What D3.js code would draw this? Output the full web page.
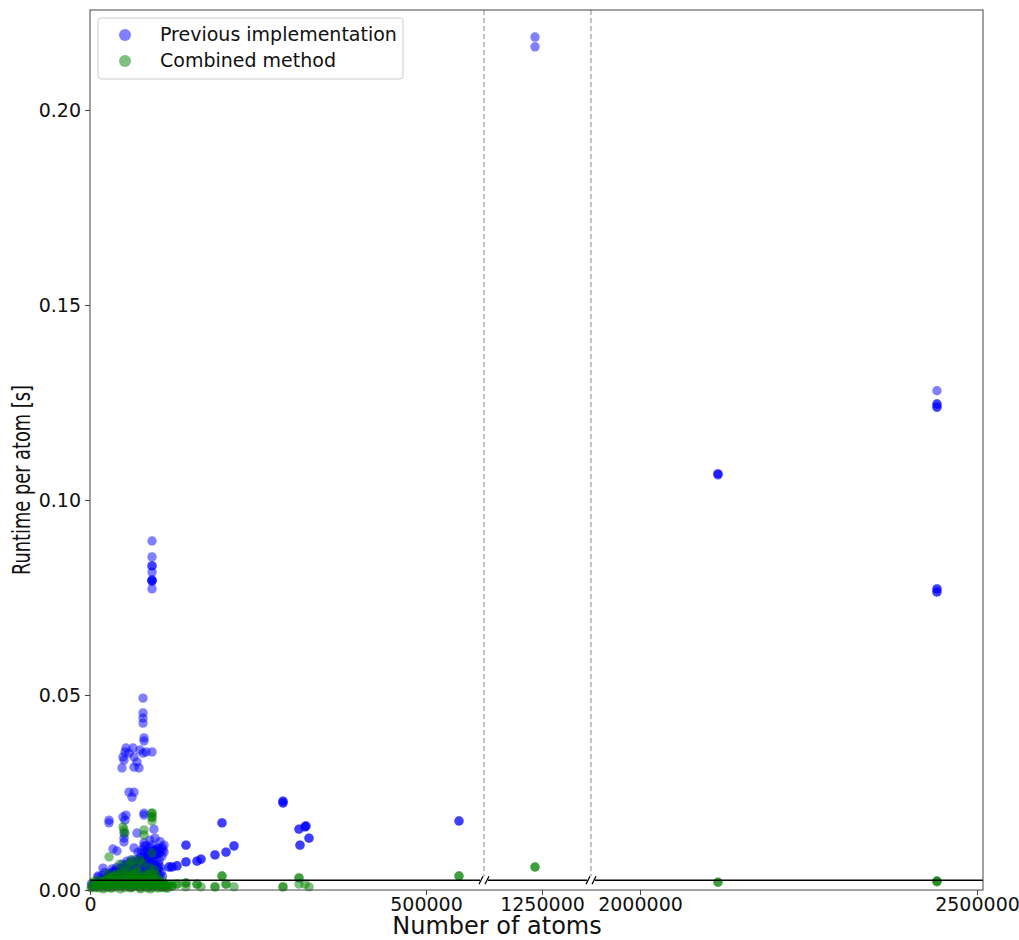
<!DOCTYPE html>
<html>
<head>
<meta charset="utf-8">
<script src="https://cdn.jsdelivr.net/npm/d3@7"></script>
<style>
  body { margin: 0; background: #fff; }
  text { font-family: "DejaVu Sans", sans-serif; }
</style>
</head>
<body>
<div id="svgdiv"></div>
<script>
// data: atoms vs runtime per atom
var prevAtoms = [
  92300, 92300, 92300, 92300, 92300, 92300, 92300,
  78900, 78900, 78900, 78900, 80400, 80400,
  47600, 50600, 52100, 53600, 64000, 65500, 65500, 69900, 72900, 74400, 78900, 83300, 92300, 49100, 58000,
  58000, 65500, 62500,
  28300, 28300, 49100, 53600, 52100, 80400, 80400,
  50600, 50600, 50600, 69900, 65500, 34200, 40200, 96700, 95200,
  80400, 83300, 86300, 89300, 92300, 95200, 98200, 101200, 104200, 86300, 92300, 96700, 78900, 83300,
  287200, 287200, 196400, 311000, 321400, 320000, 325900, 312500, 142800, 214300, 202400, 186000, 165200,
  159200, 142800, 129500, 122000, 117600, 108600, 101200, 101200, 549100,
  3000, 5950, 8930, 11900, 14900, 17900, 20800, 23800, 26800, 29800, 32700, 35700, 38700, 41700, 44600,
  47600, 50600, 53600, 56500, 59500, 62500, 65500, 68400, 71400, 74400, 77400, 80400, 83300, 86300, 89300,
  92300, 95200, 98200, 101200, 104200, 107100, 110100, 83300, 89300, 95200, 101200, 74400, 65500, 56500,
  44600, 32700, 23800, 19300, 11900, 104200, 96700, 89300, 71400, 77400, 86300, 80400, 89300, 104200,
  110100, 107100,
  1239600, 1239600,
  2115700, 2115700, 2440600, 2440600, 2440600, 2440600, 2440600,
  2000, 8000, 14000, 20000, 26000, 32000, 38000, 44000, 50000, 56000, 62000, 68000, 74000, 80000, 86000, 92000, 98000, 104000, 110000,
  12000, 18000, 24000, 30000, 36000, 42000, 48000, 54000, 60000, 66000, 72000, 78000, 84000, 90000, 96000, 102000, 108000,
  33000, 39000, 45000, 51000, 57000, 63000, 69000, 75000, 81000, 87000, 93000, 99000, 105000,
  55000, 61000, 67000, 73000, 79000, 85000, 91000, 97000, 103000,
  76000, 82000, 88000, 94000, 100000,
  287200, 287200, 196400, 311000, 321400, 320000, 325900, 312500, 142800, 214300, 202400, 186000, 165200, 159200,
  142800, 129500, 122000, 117600, 549100, 2115700, 2440600, 2440600, 2440600, 2440600, 92300, 92300, 92300,
  22000, 28000, 34000, 40000, 46000, 52000, 58000, 64000, 70000, 76000, 82000, 88000, 94000, 100000, 106000,
  48000, 54000, 60000, 66000, 72000, 78000, 84000, 90000, 96000, 102000
];
var prevRuntime = [
  0.0895, 0.0854, 0.0831, 0.0815, 0.0795, 0.0792, 0.0772,
  0.0492, 0.0454, 0.0441, 0.0428, 0.0390, 0.0382,
  0.0313, 0.0333, 0.0354, 0.0364, 0.0364, 0.0341, 0.0315, 0.0328, 0.0313, 0.0359, 0.0351, 0.0354, 0.0354, 0.0341, 0.0351,
  0.0251, 0.0251, 0.0238,
  0.0179, 0.0172, 0.0187, 0.0192, 0.0179, 0.0197, 0.0192,
  0.0146, 0.0133, 0.0123, 0.0146, 0.0108, 0.0105, 0.0100, 0.0133, 0.0156,
  0.0121, 0.0113, 0.0103, 0.0108, 0.0115, 0.0100, 0.0103, 0.0108, 0.0095, 0.0090, 0.0085, 0.0090, 0.0079, 0.0072,
  0.0228, 0.0223, 0.0172, 0.0156, 0.0164, 0.0162, 0.0133, 0.0115, 0.0115, 0.0113, 0.0097, 0.0090, 0.0079,
  0.0074, 0.0072, 0.0062, 0.0059, 0.0059, 0.0103, 0.0097, 0.0056, 0.0177,
  0.0010, 0.0015, 0.0013, 0.0021, 0.0018, 0.0026, 0.0031, 0.0028, 0.0036, 0.0041, 0.0033, 0.0046, 0.0051, 0.0044, 0.0056,
  0.0049, 0.0062, 0.0054, 0.0067, 0.0059, 0.0072, 0.0064, 0.0077, 0.0069, 0.0082, 0.0074, 0.0087, 0.0079, 0.0092, 0.0085,
  0.0097, 0.0090, 0.0103, 0.0095, 0.0105, 0.0087, 0.0097, 0.0062, 0.0051, 0.0067, 0.0056, 0.0046, 0.0036, 0.0031,
  0.0026, 0.0021, 0.0015, 0.0056, 0.0036, 0.0038, 0.0044, 0.0033, 0.0097, 0.0103, 0.0072, 0.0113, 0.0128, 0.0124,
  0.0115, 0.0110,
  0.2187, 0.2162,
  0.1067, 0.1064, 0.1280, 0.1246, 0.1238, 0.0772, 0.0764,
  0.0016, 0.0013, 0.0018, 0.0014, 0.0017, 0.0012, 0.0016, 0.0019, 0.0013, 0.0017, 0.0015, 0.0012, 0.0018, 0.0014, 0.0016, 0.0013, 0.0017, 0.0015, 0.0012,
  0.0033, 0.0037, 0.0031, 0.0036, 0.0034, 0.0038, 0.0032, 0.0036, 0.0035, 0.0031, 0.0037, 0.0034, 0.0036, 0.0032, 0.0038, 0.0033, 0.0035,
  0.0054, 0.0057, 0.0052, 0.0056, 0.0053, 0.0058, 0.0055, 0.0051, 0.0057, 0.0054, 0.0056, 0.0053, 0.0058,
  0.0074, 0.0077, 0.0072, 0.0076, 0.0073, 0.0078, 0.0075, 0.0071, 0.0076,
  0.0094, 0.0097, 0.0093, 0.0096, 0.0092,
  0.0228, 0.0223, 0.0172, 0.0156, 0.0164, 0.0162, 0.0133, 0.0115, 0.0115, 0.0113, 0.0097, 0.0090, 0.0079, 0.0074,
  0.0072, 0.0062, 0.0059, 0.0059, 0.0177, 0.1067, 0.1246, 0.1238, 0.0772, 0.0764, 0.0831, 0.0795, 0.0792,
  0.0045, 0.0042, 0.0047, 0.0044, 0.0048, 0.0043, 0.0046, 0.0049, 0.0044, 0.0047, 0.0043, 0.0048, 0.0045, 0.0042, 0.0046,
  0.0066, 0.0063, 0.0068, 0.0064, 0.0067, 0.0062, 0.0069, 0.0065, 0.0063, 0.0067
];
var combAtoms = [
  92300, 92300, 92300, 80400, 80400, 49100, 50600, 52100, 28300, 92300, 64000, 74400, 56500, 68400,
  1500, 4500, 7500, 10500, 13500, 16500, 19500, 22500, 25500, 28500, 31500, 34500, 37500, 40500, 43500,
  46500, 49500, 52500, 55500, 58500, 61500, 64500, 67500, 70500, 73500, 76500, 79500, 82500, 85500, 88500,
  91500, 94500, 97500, 100500, 103500, 106500, 109500, 112500, 30000, 60000, 45000, 75000, 90000, 20000,
  55000, 65000, 85000,
  117600, 122000, 129500, 142800, 142800, 159200, 165200, 186000, 196400, 202400, 214300, 287200, 311000,
  311000, 320000, 325900, 549100,
  1239600,
  2115700, 2440600, 2440600,
  3000, 9000, 15000, 21000, 27000, 33000, 39000, 45000, 51000, 57000, 63000, 69000, 75000, 81000, 87000, 93000, 99000, 105000, 111000, 116000,
  6000, 12000, 18000, 24000, 36000, 42000, 48000, 54000, 66000, 72000, 78000, 84000, 96000, 102000, 108000,
  26000, 38000, 50000, 62000, 70000, 86000, 94000, 98000, 44000, 60000, 78000, 88000, 96000,
  117600, 122000, 129500, 142800, 159200, 186000, 196400, 202400, 287200, 311000, 549100, 1239600, 2115700, 2440600, 92300, 92300,
  4000, 10000, 16000, 22000, 28000, 34000, 40000, 46000, 52000, 58000, 64000, 70000, 76000, 82000, 88000, 94000, 100000, 106000, 112000,
  30000, 40000, 52000, 58000, 68000, 74000, 82000, 90000, 100000
];
var combRuntime = [
  0.0197, 0.0187, 0.0177, 0.0154, 0.0141, 0.0162, 0.0154, 0.0146, 0.0085, 0.0095, 0.0077, 0.0077, 0.0064, 0.0059,
  0.0005, 0.0010, 0.0008, 0.0015, 0.0005, 0.0020, 0.0012, 0.0026, 0.0008, 0.0031, 0.0018, 0.0036, 0.0010, 0.0041, 0.0023,
  0.0046, 0.0013, 0.0051, 0.0028, 0.0044, 0.0008, 0.0038, 0.0020, 0.0049, 0.0010, 0.0033, 0.0015, 0.0041, 0.0005, 0.0028,
  0.0036, 0.0010, 0.0023, 0.0005, 0.0018, 0.0008, 0.0013, 0.0005, 0.0005, 0.0005, 0.0003, 0.0003, 0.0003, 0.0003,
  0.0015, 0.0026, 0.0020,
  0.0013, 0.0010, 0.0015, 0.0018, 0.0008, 0.0015, 0.0008, 0.0008, 0.0036, 0.0015, 0.0008, 0.0008, 0.0031,
  0.0015, 0.0015, 0.0008, 0.0036,
  0.0059,
  0.0020, 0.0023, 0.0021,
  0.0008, 0.0006, 0.0010, 0.0007, 0.0009, 0.0005, 0.0008, 0.0011, 0.0006, 0.0009, 0.0007, 0.0010, 0.0006, 0.0008, 0.0011, 0.0007, 0.0009, 0.0006, 0.0008, 0.0005,
  0.0022, 0.0025, 0.0020, 0.0024, 0.0021, 0.0026, 0.0023, 0.0020, 0.0025, 0.0022, 0.0026, 0.0021, 0.0024, 0.0020, 0.0023,
  0.0041, 0.0038, 0.0043, 0.0040, 0.0044, 0.0039, 0.0042, 0.0037, 0.0066, 0.0071, 0.0069, 0.0058, 0.0052,
  0.0013, 0.0010, 0.0015, 0.0018, 0.0015, 0.0008, 0.0036, 0.0015, 0.0008, 0.0031, 0.0036, 0.0059, 0.0020, 0.0023, 0.0197, 0.0187,
  0.0015, 0.0017, 0.0014, 0.0016, 0.0018, 0.0015, 0.0013, 0.0017, 0.0016, 0.0014, 0.0018, 0.0015, 0.0017, 0.0013, 0.0016, 0.0018, 0.0014, 0.0016, 0.0012,
  0.0031, 0.0033, 0.0030, 0.0034, 0.0032, 0.0029, 0.0033, 0.0031, 0.0030
];
var refLine = 0.0025;

// broken x axis: three pieces
var segDomains = [[0, 586300], [1163700, 1322900], [1927300, 2508900]];
var segRanges = [[90, 484], [484, 591], [591, 983]];
var segTicks = [[0, 500000], [1250000], [2000000, 2500000]];
var yTicks = [0, 0.05, 0.10, 0.15, 0.20];

var width = 1019, height = 940;
var plotTop = 10, plotBottom = 890, plotLeft = 90, plotRight = 983;

var svg = d3.select("#svgdiv").append("svg")
    .attr("width", width)
    .attr("height", height);

var xs = segDomains.map(function(d, i){
    return d3.scaleLinear().domain(d).range(segRanges[i]);
});
var y = d3.scaleLinear().domain([0, 0.22564]).range([plotBottom, plotTop]);

function xpos(v){
    for(let i = 0; i < xs.length; ++i){
        let d = segDomains[i];
        if(v >= d[0] && v <= d[1]) return xs[i](v);
    }
    return null;
}

function series(a, b){
    return a.map(function(v, i){ return {x: v, y: b[i]}; });
}

// points
svg.append("g").selectAll("circle")
    .data(series(prevAtoms, prevRuntime))
    .join("circle")
    .attr("cx", d => xpos(d.x))
    .attr("cy", d => y(d.y))
    .attr("r", 4.7)
    .attr("fill", "blue")
    .attr("fill-opacity", 0.5);

svg.append("g").selectAll("circle")
    .data(series(combAtoms, combRuntime))
    .join("circle")
    .attr("cx", d => xpos(d.x))
    .attr("cy", d => y(d.y))
    .attr("r", 4.7)
    .attr("fill", "green")
    .attr("fill-opacity", 0.5);

// reference line, broken at the gaps
var yr = y(refLine);
segRanges.forEach(function(r, i){
    let x1 = r[0] + (i > 0 ? 4 : 0);
    let x2 = r[1] - (i < segRanges.length - 1 ? 4 : 0);
    svg.append("line")
       .attr("x1", x1).attr("x2", x2)
       .attr("y1", yr).attr("y2", yr)
       .style("stroke", "black")
       .style("stroke-width", 1.6);
});

// break marks and dashed separators
segRanges.slice(1).forEach(function(r){
    let bx = r[0];
    [-3, 3].forEach(function(off){
        svg.append("line")
           .attr("x1", bx + off - 2).attr("y1", yr + 4)
           .attr("x2", bx + off + 2).attr("y2", yr - 4)
           .style("stroke", "black")
           .style("stroke-width", 1.2);
    });
    svg.append("line")
       .attr("x1", bx).attr("x2", bx)
       .attr("y1", plotTop).attr("y2", yr - 4)
       .style("stroke", "#888")
       .style("stroke-width", 1)
       .style("stroke-dasharray", "5,3");
});

// frame
svg.append("rect")
   .attr("x", plotLeft).attr("y", plotTop)
   .attr("width", plotRight - plotLeft).attr("height", plotBottom - plotTop)
   .attr("fill", "none")
   .style("stroke", "#444")
   .style("stroke-width", 1);

// axes
xs.forEach(function(s, i){
    let g = svg.append("g")
       .attr("transform", "translate(0," + plotBottom + ")")
       .call(d3.axisBottom(s).tickValues(segTicks[i]).tickFormat(d3.format("d")).tickSize(5).tickPadding(3));
    g.select(".domain").remove();
    g.selectAll("text").style("font-size", "19px").attr("fill", "#111");
    g.selectAll("line").attr("stroke", "#444");
});

var gy = svg.append("g")
   .attr("transform", "translate(" + plotLeft + ",0)")
   .call(d3.axisLeft(y).tickValues(yTicks).tickFormat(d3.format(".2f")).tickSize(5).tickPadding(4));
gy.select(".domain").remove();
gy.selectAll("text").style("font-size", "19px").attr("fill", "#111");
gy.selectAll("line").attr("stroke", "#444");

// axis labels
svg.append("text")
   .text("Number of atoms")
   .attr("x", 497)
   .attr("y", 934)
   .attr("text-anchor", "middle")
   .style("font-size", "24px")
   .attr("fill", "#111");

svg.append("text")
   .text("Runtime per atom [s]")
   .attr("transform", "translate(30,480) rotate(-90)")
   .attr("text-anchor", "middle")
   .attr("textLength", 190)
   .attr("lengthAdjust", "spacingAndGlyphs")
   .style("font-family", "'DejaVu Sans Condensed', 'DejaVu Sans', sans-serif")
   .style("font-size", "24px")
   .attr("fill", "#111");

// legend
var legend = svg.append("g");
legend.append("rect")
   .attr("x", 98).attr("y", 18)
   .attr("width", 305).attr("height", 61)
   .attr("rx", 3)
   .attr("fill", "white")
   .attr("fill-opacity", 0.8)
   .style("stroke", "#ccc");

var legendItems = [["Previous implementation", "blue"], ["Combined method", "green"]];
legendItems.forEach(function(it, i){
    legend.append("circle")
       .attr("cx", 125).attr("cy", 35 + i * 26)
       .attr("r", 6)
       .attr("fill", it[1])
       .attr("fill-opacity", 0.5);
    legend.append("text")
       .text(it[0])
       .attr("x", 160).attr("y", 41 + i * 26)
       .style("font-size", "19px")
       .attr("fill", "#111");
});
</script>
</body>
</html>
